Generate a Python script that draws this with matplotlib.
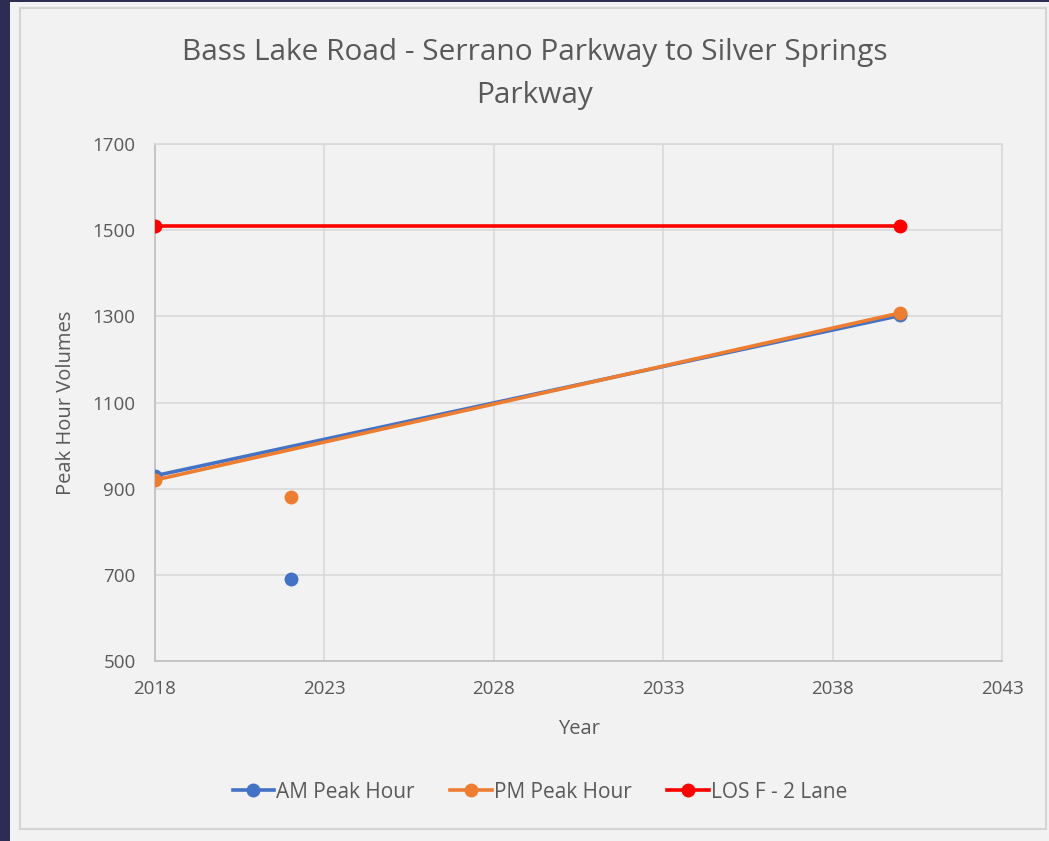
import matplotlib
matplotlib.use("Agg")
import matplotlib.pyplot as plt
from matplotlib.patches import Rectangle
from matplotlib.lines import Line2D

plt.rcParams['font.family'] = ['Open Sans', 'DejaVu Sans']

# Data
trend_years = [2018, 2040]
am_trend = [930, 1302]
pm_trend = [920, 1308]
count_year = [2022]
am_count = [690]
pm_count = [880]
los_years = [2018, 2040]
los_values = [1510, 1510]

x_ticks = [2018, 2023, 2028, 2033, 2038, 2043]
y_ticks = [500, 700, 900, 1100, 1300, 1500, 1700]

AM_C = '#4472c4'
PM_C = '#ed7d31'
LOS_C = '#ff0000'
TXT = '#595959'
GRID = '#d9d9d9'

W, H = 1049, 841
fig = plt.figure(figsize=(W / 100, H / 100), dpi=100, facecolor='#f2f2f2')

# Dark frame on left and top
fig.patches.append(Rectangle((0, 0), 10 / W, 1, transform=fig.transFigure,
                             facecolor='#2d2c54', edgecolor='none', zorder=-5))
fig.patches.append(Rectangle((0, 1 - 2 / H), 1, 2 / H, transform=fig.transFigure,
                             facecolor='#2d2c54', edgecolor='none', zorder=-5))
# Inner chart border
fig.patches.append(Rectangle((20 / W, (H - 829) / H), (1046 - 20) / W, (829 - 8) / H,
                             transform=fig.transFigure, facecolor='none',
                             edgecolor='#d4d4d4', linewidth=1.5, zorder=-5))

ax = fig.add_axes([155 / W, (H - 661) / H, (1002 - 155) / W, (661 - 144) / H])
ax.set_facecolor('#f2f2f2')

ax.plot(trend_years, am_trend, color=AM_C, lw=2.6, marker='o', ms=9, zorder=3,
        solid_capstyle='round')
ax.plot(trend_years, pm_trend, color=PM_C, lw=2.6, marker='o', ms=9, zorder=4,
        solid_capstyle='round')
ax.plot(count_year, am_count, color=AM_C, ls='none', marker='o', ms=9, zorder=3)
ax.plot(count_year, pm_count, color=PM_C, ls='none', marker='o', ms=9, zorder=3)
ax.plot(los_years, los_values, color=LOS_C, lw=2.6, marker='o', ms=9, zorder=5)

ax.set_xlim(2018, 2043)
ax.set_ylim(500, 1700)
ax.set_xticks(x_ticks)
ax.set_yticks(y_ticks)
ax.grid(True, color=GRID, lw=1.2)
ax.set_axisbelow(True)
for s in ax.spines.values():
    s.set_color(GRID)
    s.set_linewidth(1.2)
ax.spines['left'].set_color('#bfbfbf')
ax.spines['bottom'].set_color('#bfbfbf')
ax.tick_params(length=0, colors=TXT, labelsize=13.5, pad=14)
ax.tick_params(axis='y', pad=14)

ax.set_xlabel('Year', color=TXT, fontsize=14.5, labelpad=15)
ax.set_ylabel('Peak Hour Volumes', color=TXT, fontsize=14.5, labelpad=12)

fig.text(535 / W, 1 - 74 / H, 'Bass Lake Road - Serrano Parkway to Silver Springs\nParkway',
         ha='center', va='center', color=TXT, fontsize=21.5, linespacing=1.62)

handles = [Line2D([], [], color=AM_C, lw=2.6, marker='o', ms=9),
           Line2D([], [], color=PM_C, lw=2.6, marker='o', ms=9),
           Line2D([], [], color=LOS_C, lw=2.6, marker='o', ms=9)]
fig.legend(handles, ['AM Peak Hour', 'PM Peak Hour', 'LOS F - 2 Lane'],
           loc='center', bbox_to_anchor=(540 / W, 1 - 792 / H), ncol=3,
           frameon=False, fontsize=15, labelcolor=TXT, handlelength=2.0,
           handletextpad=0.1, columnspacing=1.7)

fig.savefig('out.png', dpi=100, facecolor=fig.get_facecolor())
